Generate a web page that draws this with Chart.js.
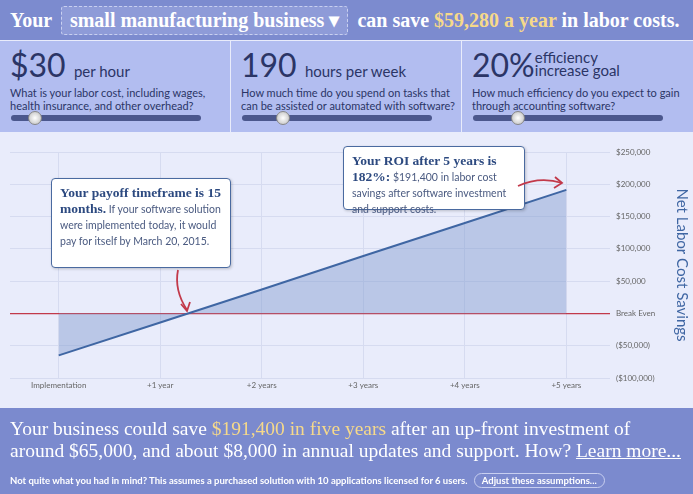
<!DOCTYPE html>
<html>
<head>
<meta charset="utf-8">
<script src="https://cdn.jsdelivr.net/npm/chart.js@4.4.1/dist/chart.umd.min.js"></script>
<style>
  body { margin: 0; width: 693px; height: 494px; overflow: hidden; background: #e9ecfb; font-family: Lato, sans-serif; }
  #wrap { position: relative; width: 693px; height: 494px; }
  #top { position: absolute; left: 0; top: 0; width: 693px; height: 40px; background: #7c8bcf; color: #fff;
         font-family: "Liberation Serif", serif; font-size: 20px; font-weight: bold; line-height: 40px; white-space: nowrap; }
  #top .sel { display: inline-block; border: 1px dashed #c9d0f0; background: #8e9bd8; border-radius: 3px; padding: 0 8px; line-height: 27px; margin: 0 4px; }
  .gold { color: #f6d98a; }
  .panel { position: absolute; top: 41px; height: 91px; background: #b2bdf0; color: #2b3566; }
  .panel .big { position: absolute; left: 10px; top: 4px; font-size: 32px; white-space: nowrap; }
  .panel .big span { font-size: 15px; }
  .panel .q { position: absolute; left: 10px; top: 45px; font-size: 11px; line-height: 13px; width: 215px; }
  .track { position: absolute; top: 115px; height: 6px; border-radius: 3px; background: #4b578d; }
  .knob { position: absolute; width: 12px; height: 12px; border-radius: 50%; background: radial-gradient(#fff, #bbb); border: 1px solid #888; top: 111px; }
  #chartBox { position: absolute; left: 0; top: 135px; width: 693px; height: 265px; }
  .callout { position: absolute; background: #fff; border: 1.5px solid #4a6aa0; border-radius: 4px; color: #4a5a80;
             font-size: 10.5px; line-height: 16px; padding: 6px 8px; box-shadow: 1px 1px 3px rgba(0,0,0,0.2); box-sizing: border-box; }
  .callout b { font-family: "Liberation Serif", serif; font-size: 13.5px; color: #2d4a80; }
  #bottom { position: absolute; left: 0; top: 408px; width: 693px; height: 86px; background: #7b8ace; color: #fff; }
  #bottom .main { position: absolute; left: 10px; top: 10px; font-family: "Liberation Serif", serif; font-size: 19.5px; line-height: 22px; white-space: nowrap; }
  #bottom .small { position: absolute; left: 10px; top: 65px; font-size: 9.5px; font-weight: bold; white-space: nowrap; }
  #bottom .btn { display: inline-block; border: 1px solid #c8cff0; border-radius: 9px; padding: 1px 7px; margin-left: 4px; }
  svg { position: absolute; left: 0; top: 0; }
</style>
</head>
<body>
<div id="wrap">
  <div id="top">&nbsp;&nbsp;Your <span class="sel">small manufacturing business &#9662;</span> can save <span class="gold">$59,280 a year</span> in labor costs.</div>

  <div class="panel" style="left:0;width:230px">
    <div class="big">$30 <span>per hour</span></div>
    <div class="q">What is your labor cost, including wages, health insurance, and other overhead?</div>
  </div>
  <div class="panel" style="left:231px;width:230px">
    <div class="big">190 <span>hours per week</span></div>
    <div class="q">How much time do you spend on tasks that can be assisted or automated with software?</div>
  </div>
  <div class="panel" style="left:462px;width:231px">
    <div class="big">20%<span style="display:inline-block;line-height:13px;vertical-align:top;margin-top:6px"> efficiency<br> increase goal</span></div>
    <div class="q">How much efficiency do you expect to gain through accounting software?</div>
  </div>
  <div class="track" style="left:11px;width:190px"></div>
  <div class="knob" style="left:28px"></div>
  <div class="track" style="left:242px;width:190px"></div>
  <div class="knob" style="left:276px"></div>
  <div class="track" style="left:473px;width:190px"></div>
  <div class="knob" style="left:511px"></div>

  <div id="chartBox"><canvas id="roiChart"></canvas></div>

  <div class="callout" style="left:51px;top:178px;width:180px;height:90px">
    <b>Your payoff timeframe is 15 months.</b> If your software solution were implemented today, it would pay for itself by March 20, 2015.
  </div>
  <div class="callout" style="left:343px;top:146px;width:182px;height:64px">
    <b>Your ROI after 5 years is 182%:</b> $191,400 in labor cost savings after software investment and support costs.
  </div>
  <svg width="693" height="494">
    <path d="M178 270 Q174 290 187 310" stroke="#c2394a" stroke-width="1.8" fill="none"/>
    <path d="M181 304 L187 311 L190 302" stroke="#c2394a" stroke-width="1.8" fill="none"/>
    <path d="M518 186 Q540 176 562 183" stroke="#c2394a" stroke-width="1.8" fill="none"/>
    <path d="M555 177 L562 183 L554 188" stroke="#c2394a" stroke-width="1.8" fill="none"/>
  </svg>

  <div id="bottom">
    <div class="main">Your business could save <span class="gold">$191,400 in five years</span> after an up-front investment of<br>around $65,000, and about $8,000 in annual updates and support. How? <u>Learn more...</u></div>
    <div class="small">Not quite what you had in mind? This assumes a purchased solution with 10 applications licensed for 6 users. <span class="btn">Adjust these assumptions...</span></div>
  </div>
</div>

<script>
// --- Data ---
const periodLabels = ['Implementation', '+1 year', '+2 years', '+3 years', '+4 years', '+5 years'];
const netSavings = [-65000, -14000, 37000, 89000, 140000, 191400];
const yTicks = [-100000, -50000, 0, 50000, 100000, 150000, 200000, 250000];

const fmtMoney = v => {
    if (v === 0) return 'Break Even';
    const s = '$' + Math.abs(v).toLocaleString('en-US');
    return v < 0 ? '(' + s + ')' : s;
};

new Chart(document.getElementById('roiChart').getContext('2d'), {
    type: 'line',
    data: {
        datasets: [{
            data: netSavings.map((v, i) => ({ x: i, y: v })),
            borderColor: '#3f66a3', borderWidth: 2,
            backgroundColor: 'rgba(128, 156, 206, 0.45)',
            fill: 'origin', pointRadius: 0, tension: 0
        }]
    },
    options: {
        responsive: true, maintainAspectRatio: false, animation: false,
        layout: { padding: { top: 17, left: 10, right: 0, bottom: 0 } },
        plugins: { legend: { display: false }, tooltip: { enabled: false } },
        scales: {
            x: {
                type: 'linear', min: -0.48, max: 5.43,
                afterBuildTicks: s => { s.ticks = periodLabels.map((_, i) => ({ value: i })); },
                afterFit: s => { s.height = 22; },
                ticks: { callback: v => periodLabels[v], color: '#666', font: { family: 'Lato', size: 8 }, padding: 3, maxRotation: 0 },
                grid: { color: '#d6dbf0', drawTicks: false },
                border: { display: false }
            },
            y: {
                position: 'right', min: -100000, max: 250000,
                afterBuildTicks: s => { s.ticks = yTicks.map(v => ({ value: v })); },
                afterFit: s => { s.width = 83; },
                ticks: { callback: fmtMoney, color: '#666', font: { family: 'Lato', size: 8 }, padding: 6 },
                grid: {
                    color: c => c.tick && c.tick.value === 0 ? '#c2394a' : '#d6dbf0',
                    lineWidth: c => c.tick && c.tick.value === 0 ? 1.2 : 1,
                    drawTicks: false
                },
                border: { display: false },
                title: { display: true, text: 'Net Labor Cost Savings', color: '#3f66a3', font: { family: 'Lato', size: 15 }, padding: 2 }
            }
        }
    }
});
</script>
</body>
</html>
